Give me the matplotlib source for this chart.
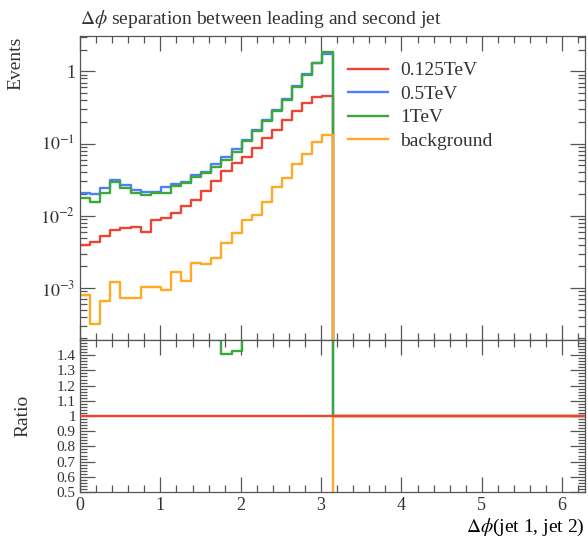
import numpy as np
import matplotlib.pyplot as plt
from matplotlib.ticker import MultipleLocator, LogLocator, FixedLocator, NullFormatter, FuncFormatter

plt.rcParams['font.family'] = ['Liberation Serif', 'DejaVu Serif']
plt.rcParams['mathtext.fontset'] = 'stix'
plt.rcParams['text.color'] = '#333333'
plt.rcParams['xtick.labelcolor'] = '#333333'
plt.rcParams['ytick.labelcolor'] = '#333333'

# 50 bins over [0, 2pi]; only the first 25 (dphi < pi) are filled
n_bins = 50
edges = np.linspace(0, 2 * np.pi, n_bins + 1)

labels = ['0.125TeV', '0.5TeV', '1TeV', 'background']
colors = ['#EE4433', '#4D7FFF', '#3BA83B', '#FFAA22']

h_0125 = [0.0039, 0.00435, 0.0052, 0.0064, 0.0067, 0.0071, 0.0059, 0.0088, 0.0094, 0.0111,
          0.0136, 0.0166, 0.0223, 0.0304, 0.0422, 0.0535, 0.0658, 0.0875, 0.118, 0.156,
          0.214, 0.279, 0.364, 0.449, 0.464]
h_05 = [0.0206, 0.0201, 0.0240, 0.0314, 0.0264, 0.0229, 0.0216, 0.0214, 0.0250, 0.0274,
        0.0294, 0.0365, 0.041, 0.052, 0.065, 0.083, 0.114, 0.153, 0.214, 0.294,
        0.42, 0.625, 0.91, 1.33, 1.74]
h_1 = [0.0175, 0.0157, 0.0206, 0.0290, 0.0241, 0.0210, 0.0197, 0.0204, 0.0204, 0.0258,
       0.0285, 0.034, 0.039, 0.048, 0.0595, 0.0765, 0.110, 0.148, 0.206, 0.286,
       0.405, 0.61, 0.89, 1.31, 1.87]
h_bkg = [7.9e-4, 3.2e-4, 6.5e-4, 1.2e-3, 7.2e-4, 7.2e-4, 1.03e-3, 1.03e-3, 9.5e-4, 1.69e-3,
         1.25e-3, 2.23e-3, 2.16e-3, 2.58e-3, 4.2e-3, 5.8e-3, 8.7e-3, 0.0103, 0.0156, 0.0247,
         0.0337, 0.0517, 0.071, 0.104, 0.131]


def full(h):
    out = np.zeros(n_bins)
    out[:len(h)] = h
    return out


hists = [full(h) for h in (h_0125, h_05, h_1, h_bkg)]
ref = hists[0]

fig = plt.figure(figsize=(5.88, 5.43), dpi=100)
ax = fig.add_axes([80 / 588, 1 - 340 / 543, 505 / 588, 304 / 543])
ax_r = fig.add_axes([80 / 588, 1 - 492 / 543, 505 / 588, 152 / 543], sharex=ax)

for i, (h, c, lab) in enumerate(zip(hists, colors, labels)):
    ax.step(edges, np.append(h, h[-1]), where='post', color=c, lw=1.7, label=lab)
    # empty bins give a ratio of 1
    ratio = np.where(ref > 0, h / np.where(ref > 0, ref, 1), 1.0)
    ax_r.step(edges, np.append(ratio, ratio[-1]), where='post', color=c, lw=1.7,
              zorder=3 if i == 0 else 2)

ax.set_yscale('log')
ax.set_ylim(1.9e-4, 3.1)
ax.set_xlim(0, 2 * np.pi)
ax_r.set_ylim(0.5, 1.5)

ax.yaxis.set_major_locator(LogLocator(base=10, numticks=10))
ax.yaxis.set_minor_locator(LogLocator(base=10, subs=np.arange(2, 10), numticks=20))
ax.yaxis.set_minor_formatter(NullFormatter())
ax.yaxis.set_major_formatter(FuncFormatter(
    lambda v, p: '1' if abs(np.log10(v)) < 1e-6 else r'$10^{%d}$' % round(np.log10(v))))

ax_r.yaxis.set_major_locator(FixedLocator(np.arange(0.5, 1.45, 0.1)))
ax_r.yaxis.set_minor_locator(MultipleLocator(0.02))
ax_r.yaxis.set_major_formatter(FuncFormatter(lambda v, p: '%g' % round(v, 1)))

for a in (ax, ax_r):
    a.xaxis.set_major_locator(MultipleLocator(1))
    a.xaxis.set_minor_locator(MultipleLocator(0.2))
    a.tick_params(which='both', direction='in', top=True, right=True, color='#555555', width=0.9)
    a.tick_params(which='major', length=10.5, labelsize=13)
    a.tick_params(which='minor', length=5)
    for s in a.spines.values():
        s.set_color('#555555')
        s.set_linewidth(0.9)
ax.tick_params(labelbottom=False)
ax_r.tick_params(axis='y', which='major', labelsize=11, pad=3)

ax.set_title(r'$\Delta\phi$ separation between leading and second jet', loc='left', fontsize=14, pad=9)
fig.text(16 / 588, 1 - 37 / 543, 'Events', rotation=90, ha='center', va='top', fontsize=14)
fig.text(23 / 588, 1 - 416 / 543, 'Ratio', rotation=90, ha='center', va='center', fontsize=14)
ax_r.set_xlabel(r'$\Delta\phi$(jet 1, jet 2)', loc='right', fontsize=14, labelpad=2)

ax.legend(loc='upper left', bbox_to_anchor=(0.53, 0.915), frameon=False, fontsize=14,
          handlelength=2.1, handletextpad=0.6, labelspacing=0.3, borderpad=0, borderaxespad=0)

fig.savefig('out.png', dpi=100)
